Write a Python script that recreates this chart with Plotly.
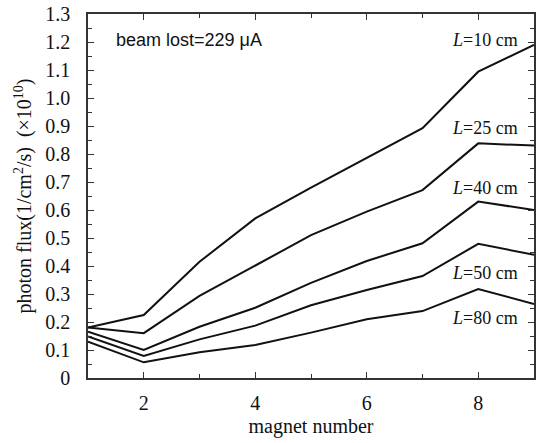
import plotly.graph_objects as go

magnet = [1, 2, 3, 4, 5, 6, 7, 8, 9]
flux_L10 = [0.18, 0.225, 0.415, 0.570, 0.680, 0.785, 0.892, 1.094, 1.19]
flux_L25 = [0.18, 0.160, 0.293, 0.400, 0.510, 0.594, 0.671, 0.838, 0.830]
flux_L40 = [0.165, 0.100, 0.183, 0.251, 0.340, 0.418, 0.481, 0.630, 0.600]
flux_L50 = [0.148, 0.079, 0.138, 0.187, 0.260, 0.314, 0.364, 0.479, 0.440]
flux_L80 = [0.130, 0.056, 0.092, 0.118, 0.162, 0.210, 0.239, 0.318, 0.264]

series = [
    ("<i>L</i>=10 cm", flux_L10, 1.207),
    ("<i>L</i>=25 cm", flux_L25, 0.893),
    ("<i>L</i>=40 cm", flux_L40, 0.679),
    ("<i>L</i>=50 cm", flux_L50, 0.375),
    ("<i>L</i>=80 cm", flux_L80, 0.214),
]

y_ticks = [0, 0.1, 0.2, 0.3, 0.4, 0.5, 0.6, 0.7, 0.8, 0.9, 1.0, 1.1, 1.2, 1.3]
y_ticktext = ["0", "0.1", "0.2", "0.3", "0.4", "0.5", "0.6", "0.7", "0.8", "0.9", "1.0", "1.1", "1.2", "1.3"]
x_ticks = [2, 4, 6, 8]

serif = "Liberation Serif, Times New Roman, serif"

fig = go.Figure()
for name, vals, ly in series:
    fig.add_trace(go.Scatter(x=magnet, y=vals, mode="lines",
                             line=dict(color="#111111", width=2), name=name,
                             showlegend=False))
    fig.add_annotation(x=8.74, y=ly, text=name, showarrow=False,
                       xanchor="right", yanchor="middle",
                       font=dict(family=serif, size=18, color="#111111"))

fig.add_annotation(x=0.058, y=1.207, xref="paper", yref="y",
                   text="beam lost=229 \u03bcA", showarrow=False,
                   xanchor="left", yanchor="middle",
                   font=dict(family="Liberation Sans, Arial, sans-serif", size=18, color="#111111"))

axis_common = dict(showgrid=False, zeroline=False, showline=True, linecolor="#333333",
                   linewidth=1.5, mirror="allticks", ticks="inside", tickcolor="#333333",
                   tickwidth=1.2, ticklen=6,
                   tickfont=dict(family=serif, size=20, color="#111111"))

fig.update_xaxes(range=[1, 9], tickvals=x_ticks, ticklabelstandoff=6,
                 minor=dict(tickvals=[1, 3, 5, 7, 9], ticks="inside", ticklen=4,
                            tickcolor="#333333", tickwidth=1.2),
                 title=dict(text="magnet number", font=dict(family=serif, size=20, color="#111111"), standoff=6),
                 **axis_common)
fig.update_yaxes(range=[0, 1.3], tickvals=y_ticks, ticktext=y_ticktext, ticklabelstandoff=12,
                 minor=dict(dtick=0.05, tick0=0, ticks="inside", ticklen=4,
                            tickcolor="#333333", tickwidth=1.2),
                 title=dict(text="photon flux(1/cm<sup>2</sup>/s)  (\u00d710<sup>10</sup>)",
                            font=dict(family=serif, size=20, color="#111111"), standoff=8),
                 **axis_common)

fig.update_layout(width=537, height=443, margin=dict(l=88, r=1, t=14, b=65),
                  plot_bgcolor="white", paper_bgcolor="white")

fig.write_html("out.html")
